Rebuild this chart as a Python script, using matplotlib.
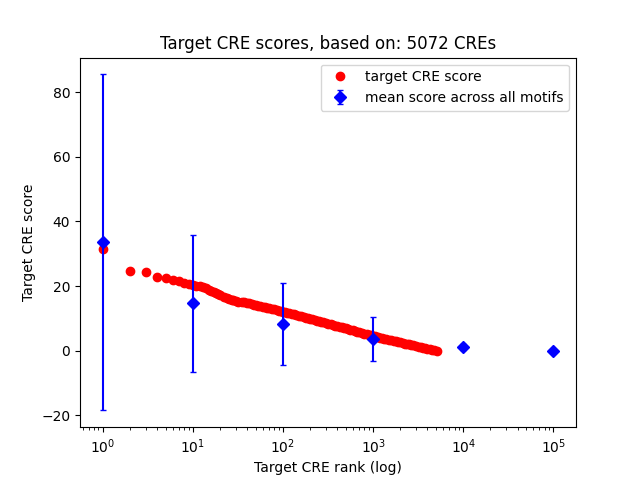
import matplotlib
matplotlib.use("Agg")
import matplotlib.pyplot as plt

# target CRE score by rank
ranks = [1, 2, 3, 4, 5, 6, 7, 8, 9, 10, 11, 12, 13, 14, 15, 16, 17, 18, 19, 20,
         22, 24, 25, 27, 28, 30, 32, 35, 37, 40, 42, 45, 48, 50, 53, 56, 60, 63,
         67, 70, 75, 80, 85, 90, 95, 100, 106, 112, 118, 125, 132, 140, 150,
         160, 170, 180, 190, 200, 212, 225, 237, 250, 265, 280, 300, 320, 340,
         360, 380, 400, 425, 450, 475, 500, 530, 560, 600, 630, 670, 700, 750,
         800, 850, 900, 950, 1000, 1060, 1120, 1180, 1250, 1320, 1400, 1500,
         1600, 1700, 1800, 1900, 2000, 2120, 2250, 2370, 2500, 2650, 2800,
         3000, 3200, 3400, 3600, 3800, 4000, 4250, 4500, 4750, 5072]
scores = [31.5, 24.5, 24.4, 22.7, 22.4, 21.9, 21.4, 20.9, 20.5, 20.2, 20.0, 19.9,
          19.7, 19.3, 18.9, 18.6, 18.2, 17.9, 17.5, 17.2, 16.6, 16.2, 16.0, 15.8,
          15.6, 15.4, 15.2, 15.0, 14.9, 14.7, 14.6, 14.4, 14.2, 14.1, 13.9, 13.8,
          13.6, 13.5, 13.3, 13.2, 13.0, 12.8, 12.6, 12.4, 12.2, 12.0, 11.9, 11.7,
          11.6, 11.4, 11.2, 11.0, 10.8, 10.6, 10.4, 10.2, 10.0, 9.9, 9.7, 9.5,
          9.3, 9.2, 9.0, 8.8, 8.5, 8.3, 8.1, 7.9, 7.7, 7.6, 7.4, 7.2, 7.0, 6.9,
          6.7, 6.5, 6.3, 6.1, 5.9, 5.8, 5.5, 5.3, 5.1, 4.9, 4.7, 4.6, 4.4, 4.2,
          4.0, 3.9, 3.7, 3.6, 3.4, 3.2, 3.0, 2.9, 2.7, 2.6, 2.4, 2.2, 2.0, 1.9,
          1.7, 1.6, 1.4, 1.2, 1.0, 0.9, 0.7, 0.6, 0.45, 0.3, 0.15, 0.0]

# mean score across motifs at each decade
mean_ranks = [1, 10, 100, 1000, 10000, 100000]
mean_scores = [33.5, 14.7, 8.2, 3.6, 1.0, 0.0]
mean_err = [52.0, 21.2, 12.6, 6.7, 0.9, 0.0]

fig, ax = plt.subplots(figsize=(6.4, 4.8), dpi=100)
ax.plot(ranks, scores, 'ro', label='target CRE score')
ax.errorbar(mean_ranks, mean_scores, yerr=mean_err, fmt='bD', markersize=6,
            capsize=2.5, label='mean score across all motifs')
ax.set_xscale('log')
ax.set_title('Target CRE scores, based on: 5072 CREs')
ax.set_xlabel('Target CRE rank (log)')
ax.set_ylabel('Target CRE score')
ax.legend(loc='upper right')
fig.savefig('out.png')
